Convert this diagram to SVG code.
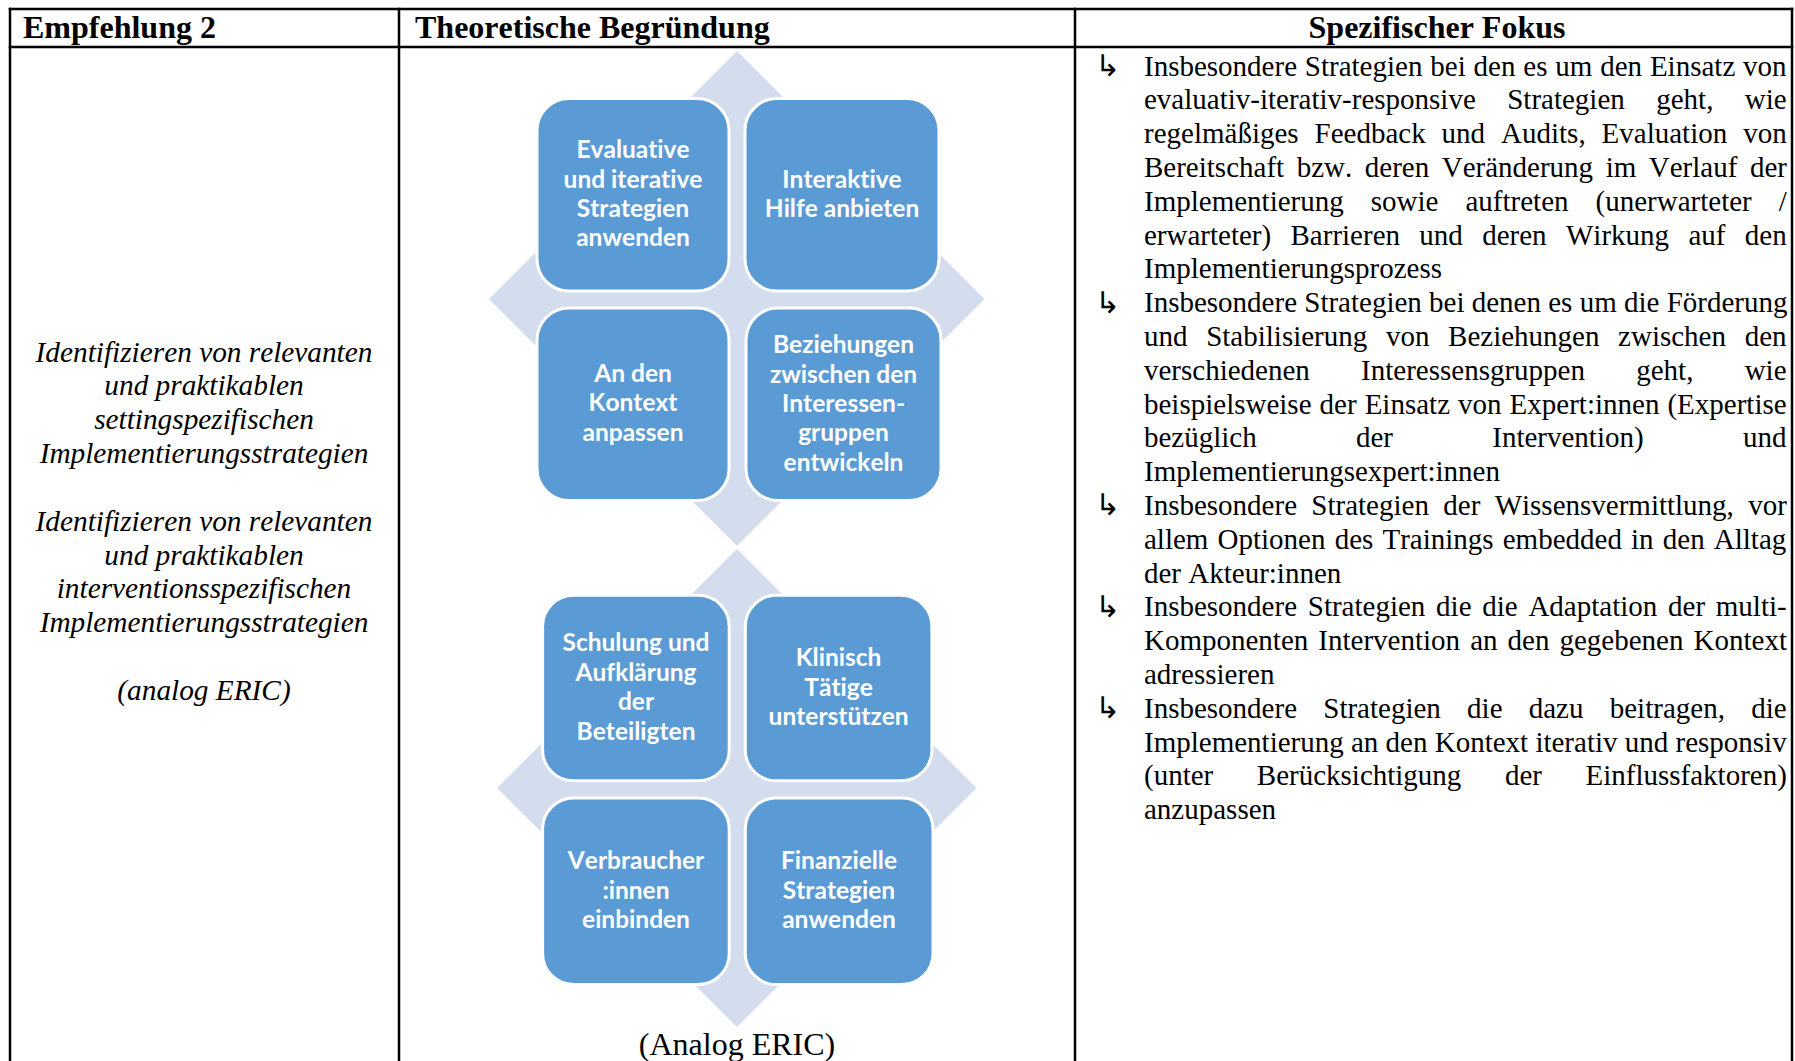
<svg xmlns="http://www.w3.org/2000/svg" width="1795" height="1061" viewBox="0 0 1795 1061">
<style>
text{font-kerning:none;font-variant-ligatures:none}
.grid{stroke:#000;stroke-width:2.5;fill:none}
.hd{font-family:"Liberation Serif",serif;font-weight:bold;font-size:32px;fill:#000}
.it{font-family:"Liberation Serif",serif;font-style:italic;font-size:29.3px;fill:#000;text-anchor:middle}
.bd{font-family:"Liberation Serif",serif;font-size:29px;fill:#000}
.bl{font-family:"DejaVu Sans",sans-serif;font-size:30px;fill:#000}
.dia{fill:#D3DDEE}
.box{fill:#5B9BD5;stroke:#fff;stroke-width:3}
.bt{font-family:Lato,"Open Sans",sans-serif;font-weight:bold;font-size:24.5px;fill:#fff;text-anchor:middle}
.cap{font-family:"Liberation Serif",serif;font-size:32px;fill:#000;text-anchor:middle}
</style>
<rect width="1795" height="1061" fill="#fff"/>
<g id="table">
<line class="grid" x1="8.75" y1="9" x2="1793.25" y2="9"/>
<line class="grid" x1="8.75" y1="47" x2="1793.25" y2="47"/>
<line class="grid" x1="10" y1="7.75" x2="10" y2="1061"/>
<line class="grid" x1="399" y1="7.75" x2="399" y2="1061"/>
<line class="grid" x1="1075" y1="7.75" x2="1075" y2="1061"/>
<line class="grid" x1="1792" y1="7.75" x2="1792" y2="1061"/>
</g>
<g id="header">
<text class="hd" x="23" y="38">Empfehlung 2</text>
<text class="hd" x="415" y="38">Theoretische Begründung</text>
<text class="hd" x="1437" y="38" text-anchor="middle">Spezifischer Fokus</text>
</g>
<g id="col1">
<text class="it" x="204" y="361.6">Identifizieren von relevanten</text>
<text class="it" x="204" y="395.4">und praktikablen</text>
<text class="it" x="204" y="429.2">settingspezifischen</text>
<text class="it" x="204" y="463">Implementierungsstrategien</text>
<text class="it" x="204" y="530.8">Identifizieren von relevanten</text>
<text class="it" x="204" y="564.6">und praktikablen</text>
<text class="it" x="204" y="598.4">interventionsspezifischen</text>
<text class="it" x="204" y="632.2">Implementierungsstrategien</text>
<text class="it" x="204" y="699.8">(analog ERIC)</text>
</g>
<g id="diagram">
<polygon class="dia" points="737,51 984.5,299 737,546 489,299"/>
<polygon class="dia" points="737,549 976.5,788 737,1027 497,788"/>
<g id="n1"><rect class="box" x="537" y="98.5" width="192" height="192.5" rx="32"/>
<text class="bt" x="633" y="158.2">Evaluative</text><text class="bt" x="633" y="187.6">und iterative</text><text class="bt" x="633" y="217">Strategien</text><text class="bt" x="633" y="246.4">anwenden</text></g>
<g id="n2"><rect class="box" x="745" y="98.5" width="194" height="192.5" rx="32"/>
<text class="bt" x="842" y="187.6">Interaktive</text><text class="bt" x="842" y="217">Hilfe anbieten</text></g>
<g id="n3"><rect class="box" x="537" y="308" width="192" height="192.5" rx="32"/>
<text class="bt" x="633" y="382">An den</text><text class="bt" x="633" y="411.4">Kontext</text><text class="bt" x="633" y="440.8">anpassen</text></g>
<g id="n4"><rect class="box" x="746" y="308" width="195" height="192.5" rx="32"/>
<text class="bt" x="843.5" y="353.2">Beziehungen</text><text class="bt" x="843.5" y="382.6">zwischen den</text><text class="bt" x="843.5" y="412">Interessen-</text><text class="bt" x="843.5" y="441.4">gruppen</text><text class="bt" x="843.5" y="470.8">entwickeln</text></g>
<g id="n5"><rect class="box" x="542.6" y="595.3" width="186.6" height="185.5" rx="31"/>
<text class="bt" x="636" y="651.4">Schulung und</text><text class="bt" x="636" y="680.8">Aufklärung</text><text class="bt" x="636" y="710.2">der</text><text class="bt" x="636" y="739.6">Beteiligten</text></g>
<g id="n6"><rect class="box" x="745.3" y="595.3" width="186.6" height="185.5" rx="31"/>
<text class="bt" x="838.6" y="666.1">Klinisch</text><text class="bt" x="838.6" y="695.5">Tätige</text><text class="bt" x="838.6" y="724.9">unterstützen</text></g>
<g id="n7"><rect class="box" x="542.6" y="798" width="186.6" height="186.5" rx="31"/>
<text class="bt" x="636" y="869.4">Verbraucher</text><text class="bt" x="636" y="898.8">:innen</text><text class="bt" x="636" y="928.2">einbinden</text></g>
<g id="n8"><rect class="box" x="745.3" y="798" width="187.7" height="186.5" rx="31"/>
<text class="bt" x="839" y="869.4">Finanzielle</text><text class="bt" x="839" y="898.8">Strategien</text><text class="bt" x="839" y="928.2">anwenden</text></g>
<text class="cap" x="737" y="1055">(Analog ERIC)</text>
</g>
<g id="connectors"/>
<g id="col3">
<text class="bl" x="1095" y="76">↳</text>
<text class="bl" x="1095" y="312.6">↳</text>
<text class="bl" x="1095" y="515.4">↳</text>
<text class="bl" x="1095" y="616.8">↳</text>
<text class="bl" x="1095" y="718.2">↳</text>
<text class="bd" x="1144" y="75.5" word-spacing="0.6">Insbesondere Strategien bei den es um den Einsatz von</text>
<text class="bd" x="1144" y="109.3" word-spacing="24.2">evaluativ-iterativ-responsive Strategien geht, wie</text>
<text class="bd" x="1144" y="143.1" word-spacing="8.7">regelmäßiges Feedback und Audits, Evaluation von</text>
<text class="bd" x="1144" y="176.9" word-spacing="5.3">Bereitschaft bzw. deren Veränderung im Verlauf der</text>
<text class="bd" x="1144" y="210.7" word-spacing="19.8">Implementierung sowie auftreten (unerwarteter /</text>
<text class="bd" x="1144" y="244.5" word-spacing="12.1">erwarteter) Barrieren und deren Wirkung auf den</text>
<text class="bd" x="1144" y="278.3">Implementierungsprozess</text>
<text class="bd" x="1144" y="312.1" word-spacing="0">Insbesondere Strategien bei denen es um die Förderung</text>
<text class="bd" x="1144" y="345.9" word-spacing="11.4">und Stabilisierung von Beziehungen zwischen den</text>
<text class="bd" x="1144" y="379.7" word-spacing="44">verschiedenen Interessensgruppen geht, wie</text>
<text class="bd" x="1144" y="413.5" word-spacing="0.8">beispielsweise der Einsatz von Expert:innen (Expertise</text>
<text class="bd" x="1144" y="447.3" word-spacing="92">bezüglich der Intervention) und</text>
<text class="bd" x="1144" y="481.1">Implementierungsexpert:innen</text>
<text class="bd" x="1144" y="514.9" word-spacing="7.1">Insbesondere Strategien der Wissensvermittlung, vor</text>
<text class="bd" x="1144" y="548.7" word-spacing="1.9">allem Optionen des Trainings embedded in den Alltag</text>
<text class="bd" x="1144" y="582.5">der Akteur:innen</text>
<text class="bd" x="1144" y="616.3" word-spacing="3.5">Insbesondere Strategien die die Adaptation der multi-</text>
<text class="bd" x="1144" y="650.1" word-spacing="2.8">Komponenten Intervention an den gegebenen Kontext</text>
<text class="bd" x="1144" y="683.9">adressieren</text>
<text class="bd" x="1144" y="717.7" word-spacing="19">Insbesondere Strategien die dazu beitragen, die</text>
<text class="bd" x="1144" y="751.5" word-spacing="0">Implementierung an den Kontext iterativ und responsiv</text>
<text class="bd" x="1144" y="785.3" word-spacing="36.3">(unter Berücksichtigung der Einflussfaktoren)</text>
<text class="bd" x="1144" y="819.1">anzupassen</text>
</g>
</svg>
